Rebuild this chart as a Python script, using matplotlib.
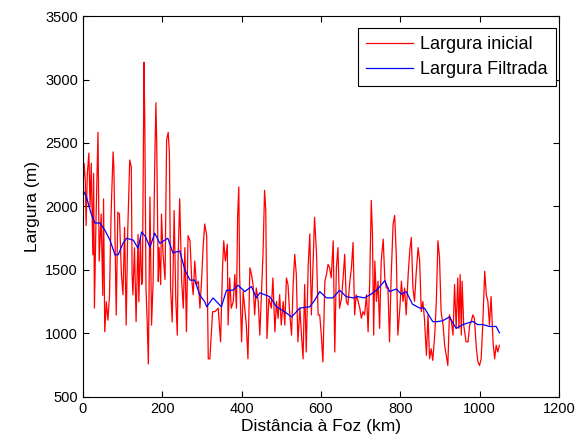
import matplotlib
matplotlib.use("Agg")
import matplotlib.pyplot as plt

plt.rcParams['font.family'] = ['Liberation Sans', 'DejaVu Sans']

# Largura inicial (red) - distance (km) and width (m)
dist_ini = [0, 3, 6, 8, 11, 15, 18, 21, 25, 27, 29, 33, 38, 41, 46, 50, 52, 55, 59, 63,
            67, 71, 76, 78, 82, 84, 88, 92, 97, 101, 105, 109, 113, 118, 122, 124, 126, 130, 134, 139,
            141, 145, 148, 150, 154, 156, 159, 162, 165, 169, 173, 177, 181, 184, 186, 190, 192, 196, 198, 202,
            207, 211, 215, 218, 221, 225, 228, 230, 234, 238, 240, 244, 249, 253, 257, 261, 265, 270, 274, 278,
            282, 286, 291, 295, 299, 303, 307, 312, 316, 320, 327, 333, 341, 347, 352, 355, 359, 364, 366, 370,
            374, 379, 383, 387, 390, 393, 395, 400, 404, 408, 412, 416, 421, 425, 429, 433, 437, 442, 446, 450,
            454, 458, 461, 464, 469, 475, 479, 484, 488, 492, 496, 500, 505, 509, 513, 517, 521, 526, 530, 534,
            538, 542, 547, 551, 555, 559, 563, 568, 572, 576, 580, 584, 589, 593, 597, 601, 605, 610, 614, 618,
            622, 626, 631, 635, 639, 643, 647, 652, 656, 660, 664, 668, 673, 677, 681, 685, 689, 694, 698, 702,
            706, 710, 715, 719, 723, 727, 730, 733, 736, 740, 744, 748, 752, 757, 761, 765, 769, 773, 777, 782,
            786, 790, 794, 799, 803, 807, 811, 815, 820, 824, 828, 832, 836, 840, 845, 849, 853, 857, 861, 866,
            870, 874, 878, 882, 887, 891, 895, 899, 903, 908, 912, 916, 920, 924, 929, 933, 937, 941, 945, 948,
            951, 954, 956, 960, 966, 971, 975, 979, 983, 987, 992, 996, 1000, 1004, 1008, 1013, 1017, 1021, 1025, 1029,
            1034, 1038, 1042, 1046, 1050]
larg_ini = [2130, 2340, 2200, 1850, 2250, 2420, 1995, 2340, 1620, 2260, 1200, 1900, 2584, 1570, 1940, 1300, 2060, 1013, 1250, 1105,
            1300, 1940, 2430, 2310, 1520, 1145, 1955, 1940, 1465, 1305, 1835, 1066, 1810, 2366, 2310, 1465, 1305, 1675, 1093, 1780,
            1250, 1755, 1385, 1410, 3135, 2660, 1360, 1090, 760, 2075, 1066, 1410, 2327, 2817, 2500, 1410, 1676, 1385, 1940, 1623,
            1425, 2525, 2584, 2420, 1358, 1090, 1623, 1968, 1278, 987, 1597, 2061, 1410, 1199, 1676, 1013, 1770, 1730, 1438, 1305,
            1570, 1385, 1410, 1199, 1410, 1676, 1862, 1770, 800, 800, 1172, 1172, 1199, 934, 1517, 1730, 1570, 1703, 1066, 1437,
            1199, 1252, 1464, 1199, 1915, 2154, 1464, 934, 1332, 1199, 1066, 800, 1517, 1464, 1385, 1146, 1358, 1252, 987, 1305,
            1623, 2128, 1968, 960, 1278, 1199, 1437, 1013, 1252, 1119, 1305, 1066, 1252, 1066, 1437, 1385, 1172, 987, 1385, 1623,
            1464, 934, 1199, 987, 800, 1385, 854, 1544, 1783, 1146, 1544, 1915, 1623, 1146, 1146, 987, 775, 1411, 1464, 1544,
            1517, 1437, 1730, 854, 1517, 1676, 1199, 1278, 1437, 1623, 1252, 1225, 1411, 1517, 1716, 1146, 1305, 1252, 1199, 1119,
            1172, 1146, 1305, 1013, 1411, 2048, 1783, 987, 1570, 1252, 1411, 1040, 1570, 1743, 1437, 1358, 1358, 934, 1437, 1862,
            1929, 1623, 987, 1199, 1411, 1252, 1358, 1146, 1464, 1650, 1756, 1358, 1252, 1464, 1676, 1570, 1172, 1252, 1119, 828,
            1146, 800, 880, 788, 987, 1252, 1730, 1600, 1172, 1066, 907, 828, 748, 1146, 1093, 987, 1385, 1040, 1437, 1040,
            1464, 987, 1411, 1066, 934, 934, 1066, 1093, 1146, 1119, 880, 775, 748, 800, 1066, 1490, 1305, 1252, 1066, 1292,
            934, 800, 907, 854, 907]

# Largura Filtrada (blue)
dist_filt = [0, 9, 20, 30, 43, 55, 68, 81, 89, 101, 110, 127, 139, 148, 158, 169, 181, 194, 214, 227,
             244, 257, 270, 282, 295, 307, 312, 328, 349, 362, 378, 391, 408, 425, 437, 446, 471, 488, 509, 526,
             547, 572, 584, 597, 614, 630, 647, 664, 681, 693, 710, 727, 743, 761, 773, 790, 803, 815, 831, 849,
             861, 882, 894, 907, 924, 941, 958, 983, 995, 1008, 1025, 1042, 1050]
larg_filt = [2130, 2075, 1950, 1870, 1870, 1815, 1736, 1618, 1620, 1710, 1750, 1735, 1670, 1800, 1760, 1680, 1790, 1710, 1750, 1634,
             1650, 1500, 1420, 1420, 1300, 1250, 1210, 1280, 1210, 1340, 1340, 1380, 1330, 1370, 1280, 1320, 1290, 1210, 1170, 1130,
             1200, 1210, 1260, 1330, 1280, 1280, 1340, 1290, 1280, 1290, 1280, 1310, 1350, 1415, 1330, 1350, 1310, 1330, 1230, 1200,
             1200, 1093, 1093, 1100, 1130, 1040, 1070, 1095, 1070, 1070, 1055, 1055, 1005]

fig = plt.figure(figsize=(5.84, 4.45), dpi=100)
ax = fig.add_axes([0.142, 0.108, 0.815, 0.856])

ax.plot(dist_ini, larg_ini, color='red', linewidth=0.9, label='Largura inicial')
ax.plot(dist_filt, larg_filt, color='blue', linewidth=0.9, label='Largura Filtrada')

ax.set_xlim(0, 1200)
ax.set_ylim(500, 3500)
ax.set_xticks(range(0, 1201, 200))
ax.set_yticks(range(500, 3501, 500))
ax.tick_params(direction='in', top=True, right=True, labelsize=10.5, length=4)
ax.set_xlabel('Distância à Foz (km)', fontsize=12.5, labelpad=2)
ax.set_ylabel('Largura (m)', fontsize=12.5, labelpad=4)

leg = ax.legend(loc='upper right', bbox_to_anchor=(0.994, 0.969), fontsize=13,
                fancybox=False, framealpha=1, edgecolor='black', borderaxespad=0,
                handlelength=2.6, borderpad=0.45, labelspacing=0.45, handletextpad=0.4)
leg.get_frame().set_linewidth(0.8)

fig.savefig('out.png', dpi=100)
